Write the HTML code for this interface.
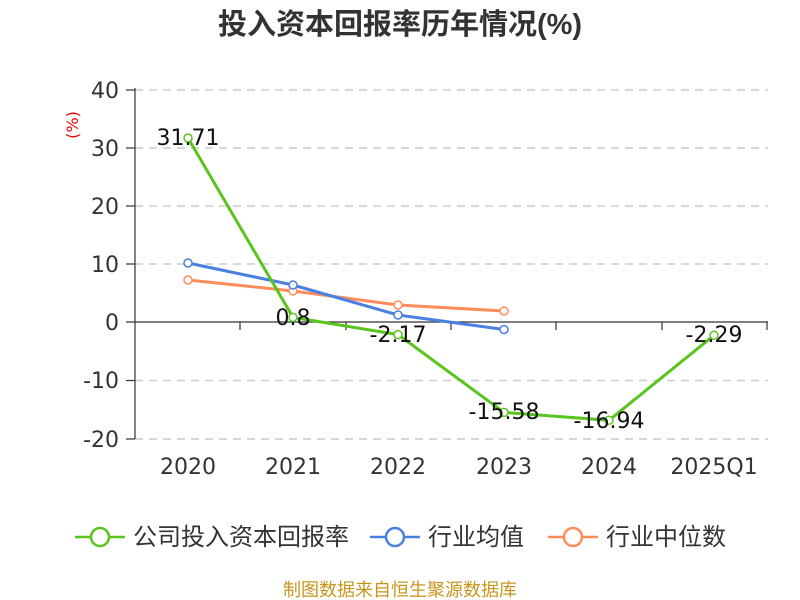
<!DOCTYPE html>
<html><head><meta charset="utf-8"><style>
body{margin:0;background:#fff;}
svg{display:block;font-family:"DejaVu Sans","Noto Sans CJK SC",sans-serif;}
</style></head><body>
<svg width="800" height="600" viewBox="0 0 800 600">
<text x="400" y="34" text-anchor="middle" font-size="29" font-weight="bold" fill="#333" font-family="Liberation Sans, Noto Sans CJK SC, sans-serif">投入资本回报率历年情况(%)</text>
<text transform="translate(78,125) rotate(-90)" text-anchor="middle" font-size="16" fill="#e00">(%)</text>
<g stroke="#ccc" stroke-width="1.5" stroke-dasharray="8,6">
<line x1="135" y1="90" x2="768" y2="90"/>
<line x1="135" y1="148" x2="768" y2="148"/>
<line x1="135" y1="206" x2="768" y2="206"/>
<line x1="135" y1="264" x2="768" y2="264"/>
<line x1="135" y1="380.5" x2="768" y2="380.5"/>
<line x1="135" y1="439" x2="768" y2="439"/>
</g>
<g stroke="#333" stroke-width="1.2">
<line x1="135" y1="88" x2="135" y2="439"/>
<line x1="135" y1="322" x2="768" y2="322"/>
<line x1="126" y1="90" x2="135" y2="90"/><line x1="126" y1="148" x2="135" y2="148"/>
<line x1="126" y1="206" x2="135" y2="206"/><line x1="126" y1="264" x2="135" y2="264"/>
<line x1="126" y1="322" x2="135" y2="322"/><line x1="126" y1="380.5" x2="135" y2="380.5"/>
<line x1="126" y1="439" x2="135" y2="439"/>
<line x1="240" y1="322" x2="240" y2="330"/><line x1="346" y1="322" x2="346" y2="330"/>
<line x1="451" y1="322" x2="451" y2="330"/><line x1="556" y1="322" x2="556" y2="330"/>
<line x1="662" y1="322" x2="662" y2="330"/><line x1="767" y1="322" x2="767" y2="330"/>
</g>
<g font-size="22" fill="#333" text-anchor="end">
<text x="119" y="98">40</text><text x="119" y="156">30</text><text x="119" y="214">20</text>
<text x="119" y="272">10</text><text x="119" y="330">0</text><text x="119" y="388">-10</text><text x="119" y="447">-20</text>
</g>
<g font-size="22" fill="#333" text-anchor="middle">
<text x="188" y="474">2020</text><text x="293" y="474">2021</text><text x="398" y="474">2022</text>
<text x="504" y="474">2023</text><text x="609" y="474">2024</text><text x="714" y="474">2025Q1</text>
</g>
<polyline fill="none" stroke="#ff8c5a" stroke-width="3" points="188,280 293,291 398,305 504,311"/>
<polyline fill="none" stroke="#4a80e0" stroke-width="3" points="188,263 293,285 398,315 504,329.5"/>
<polyline fill="none" stroke="#5ac41e" stroke-width="3" points="188,138 293,317.4 398,334.6 504,412.4 609,420.3 714,335.3"/>
<g fill="#fff" stroke-width="1.5">
<g stroke="#ff8c5a"><circle cx="188" cy="280" r="4"/><circle cx="293" cy="291" r="4"/><circle cx="398" cy="305" r="4"/><circle cx="504" cy="311" r="4"/></g>
<g stroke="#4a80e0"><circle cx="188" cy="263" r="4"/><circle cx="293" cy="285" r="4"/><circle cx="398" cy="315" r="4"/><circle cx="504" cy="329.5" r="4"/></g>
<g stroke="#5ac41e"><circle cx="188" cy="138" r="4"/><circle cx="293" cy="317.4" r="4"/><circle cx="398" cy="334.6" r="4"/><circle cx="504" cy="412.4" r="4"/><circle cx="609" cy="420.3" r="4"/><circle cx="714" cy="335.3" r="4"/></g>
</g>
<g font-size="22" fill="#111" text-anchor="middle">
<text x="188" y="145">31.71</text><text x="293" y="325">0.8</text><text x="398" y="342">-2.17</text>
<text x="504" y="419">-15.58</text><text x="609" y="428">-16.94</text><text x="714" y="342">-2.29</text>
</g>
<g stroke-width="2.5" fill="#fff">
<line x1="75" y1="537" x2="125" y2="537" stroke="#5ac41e"/><circle cx="100" cy="537" r="9" stroke="#5ac41e"/>
<line x1="370" y1="537" x2="420" y2="537" stroke="#4a80e0"/><circle cx="395" cy="537" r="9" stroke="#4a80e0"/>
<line x1="548" y1="537" x2="598" y2="537" stroke="#ff8c5a"/><circle cx="573" cy="537" r="9" stroke="#ff8c5a"/>
</g>
<g font-size="24" fill="#333">
<text x="133" y="545">公司投入资本回报率</text><text x="428" y="545">行业均值</text><text x="606" y="545">行业中位数</text>
</g>
<text x="400" y="596" text-anchor="middle" font-size="18" fill="#c8961e">制图数据来自恒生聚源数据库</text>
</svg>
</body></html>
